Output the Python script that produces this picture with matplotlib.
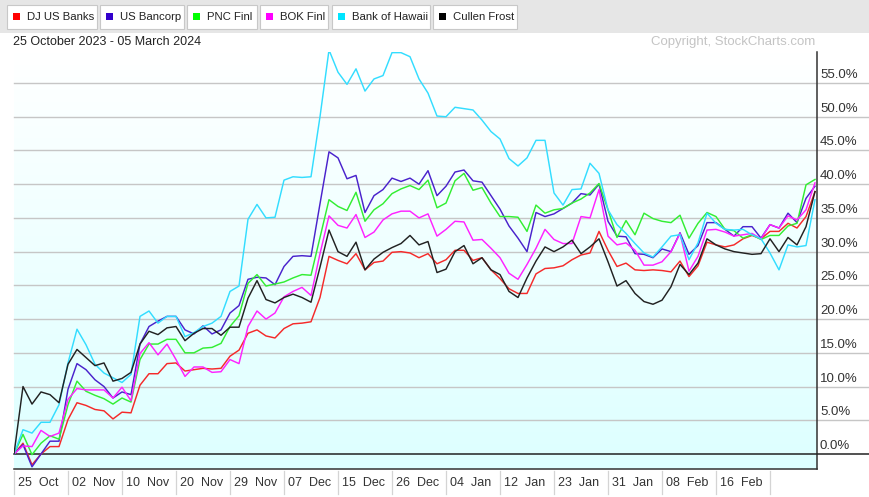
import numpy as np
import matplotlib
matplotlib.use("Agg")
import matplotlib.pyplot as plt
from matplotlib.patches import Rectangle
import matplotlib.transforms as mtransforms

plt.rcParams['font.family'] = ['Liberation Sans', 'DejaVu Sans']

### percent change since 25 Oct 2023, one value per trading day (90 days)
dj_us_banks = [0, 1.6, -1.6, 0, 1.1, 1.1, 5.1, 7.6, 7.2, 6.6, 6.4, 5.2, 6.2, 6.1, 10.2,
               11.9, 11.9, 13.4, 13.5, 12.3, 12.5, 12.7, 12.6, 12.7, 14.5, 15.4, 17.9, 18.4, 17.5, 17.2,
               18.6, 19.3, 19.4, 19.6, 23.2, 29.3, 28.7, 28.2, 29.7, 27.3, 28.4, 28.6, 29.9, 30.0, 29.8,
               29.1, 29.7, 28.2, 28.8, 30.2, 30.2, 28.7, 29.1, 27.3, 26.0, 24.5, 23.8, 23.8, 26.7, 27.5,
               27.6, 27.9, 28.8, 29.5, 29.8, 33.0, 30.2, 27.8, 28.3, 27.3, 27.2, 27.3, 27.2, 27.0, 28.6,
               26.3, 27.9, 31.4, 31.0, 30.7, 31.0, 31.9, 32.4, 31.9, 33.0, 33.0, 34.2, 33.5, 35.2, 38.9]
us_bancorp = [0, 1.4, -1.9, 0, 1.9, 1.9, 9.6, 13.4, 12.5, 11.0, 10.0, 8.3, 9.2, 8.8, 16.3,
              18.9, 19.7, 20.4, 20.4, 18.4, 17.8, 19.0, 17.8, 18.4, 20.9, 22.0, 25.9, 26.2, 26.1, 25.1,
              27.8, 29.3, 29.4, 29.3, 37.1, 44.8, 43.9, 40.8, 41.3, 35.8, 38.3, 39.2, 40.9, 40.4, 40.9,
              40.0, 42.0, 38.3, 39.7, 41.8, 42.1, 40.5, 40.3, 38.3, 36.3, 33.8, 32.0, 30.0, 35.8, 35.2,
              35.6, 36.4, 37.2, 38.6, 38.4, 40.0, 34.5, 32.3, 32.2, 29.7, 29.6, 29.1, 30.4, 30.0, 32.8,
              29.6, 30.9, 34.3, 34.3, 33.3, 32.3, 33.7, 33.7, 32.0, 34.0, 33.5, 35.7, 34.3, 37.9, 39.7]
pnc_finl = [0, 2.9, -0.1, 1.6, 2.7, 2.2, 7.3, 10.8, 9.3, 8.7, 8.2, 7.4, 8.3, 7.7, 14.0,
            16.3, 16.3, 17.0, 17.0, 15.0, 15.0, 15.7, 15.8, 16.4, 18.9, 20.5, 25.3, 26.6, 24.9, 25.2,
            25.5, 26.1, 26.6, 26.5, 32.1, 37.7, 36.7, 36.1, 38.8, 34.5, 36.2, 37.1, 38.6, 39.3, 39.8,
            39.2, 40.6, 36.5, 37.2, 40.5, 41.6, 39.1, 39.5, 37.2, 35.2, 35.2, 35.1, 33.0, 36.9, 35.7,
            36.2, 36.4, 37.2, 37.8, 38.7, 40.1, 36.2, 32.1, 34.6, 32.5, 35.7, 34.9, 34.5, 34.3, 35.4,
            32.0, 34.2, 35.8, 35.2, 33.3, 33.1, 32.0, 32.5, 31.8, 32.4, 32.4, 33.8, 34.2, 39.9, 40.7]
bok_finl = [0, 1.2, 1.1, 3.5, 2.6, 3.1, 8.1, 9.7, 9.5, 9.5, 9.5, 8.3, 9.9, 7.9, 14.9,
            16.5, 14.7, 16.3, 14.0, 11.5, 12.9, 12.9, 12.1, 12.2, 14.0, 13.4, 18.9, 21.2, 20.0, 20.9,
            23.3, 24.1, 24.7, 23.5, 29.7, 35.3, 33.9, 33.5, 35.5, 32.1, 32.9, 34.7, 35.6, 36.0, 36.0,
            35.0, 35.6, 32.3, 33.3, 34.5, 34.4, 31.7, 31.8, 30.5, 29.1, 26.8, 25.9, 28.1, 30.5, 33.3,
            31.8, 31.2, 31.2, 35.2, 35.0, 39.2, 32.3, 31.0, 31.3, 30.2, 28.0, 28.0, 28.5, 30.0, 32.7,
            27.1, 29.3, 33.2, 33.3, 32.9, 32.3, 32.5, 32.7, 31.9, 34.0, 33.5, 35.3, 34.7, 36.2, 40.2]
bank_of_hawaii = [0, 3.6, 3.1, 4.7, 4.7, 7.3, 13.5, 18.5, 16.2, 13.3, 12.0, 11.3, 10.6, 11.8, 20.4,
                  21.2, 19.4, 20.4, 20.4, 17.4, 18.0, 18.9, 19.4, 20.4, 24.1, 24.9, 34.8, 37.0, 35.0, 35.1,
                  40.6, 41.1, 41.0, 41.1, 50.0, 59.9, 56.6, 54.8, 57.1, 53.8, 55.6, 56.1, 59.5, 59.5, 58.9,
                  55.6, 53.5, 50.1, 50.0, 51.4, 51.2, 51.0, 49.5, 47.8, 46.7, 43.8, 42.7, 43.9, 46.5, 46.5,
                  38.7, 36.9, 39.2, 39.3, 43.1, 41.6, 36.2, 34.0, 32.7, 31.2, 29.8, 29.2, 30.7, 32.3, 32.5,
                  28.8, 31.3, 35.7, 34.2, 33.3, 33.2, 33.3, 32.5, 31.9, 29.8, 27.3, 31.0, 30.7, 30.9, 37.7]
cullen_frost = [0, 10.0, 7.4, 9.2, 8.8, 7.6, 13.3, 15.5, 14.3, 13.1, 13.5, 10.8, 11.2, 12.1, 16.3,
                18.2, 17.7, 18.7, 18.9, 16.8, 17.9, 18.6, 18.6, 17.6, 18.8, 18.8, 23.1, 25.7, 22.9, 22.4,
                23.2, 23.7, 23.2, 22.5, 27.7, 33.2, 30.0, 29.3, 31.4, 27.3, 28.9, 29.9, 30.6, 31.2, 32.4,
                31.0, 31.5, 26.9, 27.4, 30.0, 30.9, 28.2, 29.1, 27.3, 26.6, 24.1, 23.2, 26.1, 28.6, 30.7,
                30.0, 30.7, 31.7, 29.7, 30.7, 31.9, 28.5, 24.9, 25.7, 23.8, 22.6, 22.2, 22.8, 24.8, 28.1,
                26.6, 28.3, 31.9, 31.0, 30.4, 30.0, 29.8, 29.6, 29.7, 31.9, 30.0, 32.1, 31.0, 33.7, 38.9]

series_names = ["DJ US Banks", "US Bancorp", "PNC Finl", "BOK Finl", "Bank of Hawaii", "Cullen Frost"]
series_values = [dj_us_banks, us_bancorp, pnc_finl, bok_finl, bank_of_hawaii, cullen_frost]
line_colors = ["#f52a2a", "#4a22cc", "#33ee33", "#ff22ff", "#33ddff", "#222222"]
key_colors = ["#ff0000", "#3300cc", "#00ff00", "#ff00ff", "#00e5ff", "#000000"]

tick_pos = [0, 6, 12, 18, 24, 30, 36, 42, 48, 54, 60, 66, 72, 78]
tick_labels = ["25  Oct", "02  Nov", "10  Nov", "20  Nov", "29  Nov", "07  Dec", "15  Dec",
               "26  Dec", "04  Jan", "12  Jan", "23  Jan", "31  Jan", "08  Feb", "16  Feb"]
y_ticks = [0, 5, 10, 15, 20, 25, 30, 35, 40, 45, 50, 55]

W, H = 870, 497
fig = plt.figure(figsize=(W / 100, H / 100), dpi=100)

# pixel-space overlay for the chrome (legend bar, captions)
bg = fig.add_axes([0, 0, 1, 1], zorder=-5)
bg.set_xlim(0, W)
bg.set_ylim(H, 0)
bg.axis("off")
bg.add_patch(Rectangle((0, 0), W, 33, color="#e6e6e6", lw=0))
box_x = [7, 100, 187, 260, 332, 433]
box_w = [90, 84, 70, 68, 98, 84]
for name, col, bx, bw in zip(series_names, key_colors, box_x, box_w):
    bg.add_patch(Rectangle((bx, 5), bw, 24, facecolor="white", edgecolor="#c8c8c8", lw=0.8))
    bg.add_patch(Rectangle((bx + 6, 13), 7, 7, color=col, lw=0))
    bg.text(bx + 20, 17, name, fontsize=8.2, color="#222222", va="center", ha="left")
bg.text(13, 42, "25 October 2023 - 05 March 2024", fontsize=9, color="#222222", va="center")
bg.text(815, 42, "Copyright, StockCharts.com", fontsize=9.5, color="#c4c4c4", va="center", ha="right")

# plot area
left, right, top, bottom = 14, 817, 52, 469
ax = fig.add_axes([left / W, (H - bottom) / H, (right - left) / W, (bottom - top) / H])
px_per_pct = 371 / 55.0
y_lo = -(bottom - 454) / px_per_pct
y_hi = 55 + (83 - top) / px_per_pct
x_hi = (right - left) / 9.0

grad = np.linspace(0, 1, 256).reshape(-1, 1)
cmap = matplotlib.colors.LinearSegmentedColormap.from_list("bgc", ["#ffffff", "#ddffff"])
ax.imshow(grad, cmap=cmap, aspect="auto", origin="upper", extent=[0, x_hi, y_lo, y_hi], zorder=0)
ax.set_xlim(0, x_hi)
ax.set_ylim(y_lo, y_hi)

for sp in ["left", "top"]:
    ax.spines[sp].set_visible(False)
ax.spines["right"].set_color("#333333")
ax.spines["bottom"].set_color("#333333")
ax.spines["right"].set_linewidth(1.1)
ax.spines["bottom"].set_linewidth(1.1)
ax.set_xticks([])
ax.set_yticks([])

xmax_ext = (W - left) / (right - left)
lab_trans = mtransforms.blended_transform_factory(ax.transAxes, ax.transData)
for yv in y_ticks:
    if yv == 0:
        ax.axhline(0, xmin=0, xmax=xmax_ext, color="#222222", lw=1.1, clip_on=False, zorder=3)
    else:
        ax.axhline(yv, xmin=0, xmax=xmax_ext, color="#c6c6c6", lw=1.0, clip_on=False, zorder=1)
    ax.text((820 - left) / (right - left), yv + 0.3, "%.1f%%" % yv, transform=lab_trans,
            fontsize=9.5, color="#333333", ha="left", va="bottom")

days = np.arange(len(dj_us_banks))
for vals, col in zip(series_values, line_colors):
    ax.plot(days, vals, color=col, lw=1.05, zorder=4)

# x labels with separators
for pos, lab in zip(tick_pos, tick_labels):
    xp = left + pos * 9
    bg.plot([xp, xp], [471, 494], color="#d4d4d4", lw=0.9)
    bg.text(xp + 4, 483, lab, fontsize=9, color="#333333", va="center", ha="left")
bg.plot([left + 84 * 9, left + 84 * 9], [471, 494], color="#d4d4d4", lw=0.9)

fig.savefig("out.png", dpi=100)
